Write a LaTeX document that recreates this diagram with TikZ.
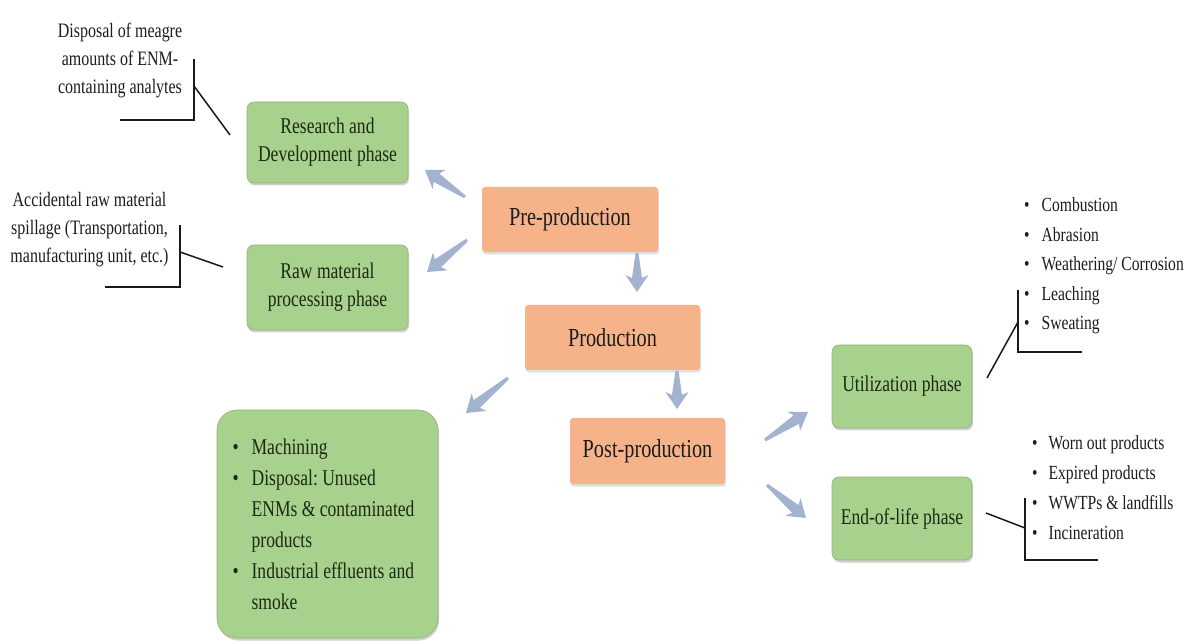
\documentclass[tikz,border=0pt]{standalone}
\usepackage{fontspec}
\setmainfont{Liberation Serif}[FakeStretch=0.78]
\usetikzlibrary{calc,shadows}
\frenchspacing

\definecolor{phasegreen}{HTML}{A9D18E}
\definecolor{stageorange}{HTML}{F6B38A}
\definecolor{flowblue}{HTML}{A3B2CE}
\definecolor{inkdark}{HTML}{1C1C1C}
\definecolor{inkgreen}{HTML}{1B2A14}

\tikzset{
  phase/.style={rounded corners=7pt, fill=phasegreen, draw=phasegreen!85!black,
    line width=0.6pt, text=inkgreen, align=center, inner sep=4pt,
    font=\fontsize{22.5}{28}\selectfont,
    drop shadow={shadow xshift=1pt, shadow yshift=-2.5pt, opacity=0.3, fill=black!60}},
  stage/.style={rounded corners=3pt, fill=stageorange, text=inkdark, align=center,
    font=\fontsize{26}{31}\selectfont,
    drop shadow={shadow xshift=1pt, shadow yshift=-2.5pt, opacity=0.25, fill=black!50}},
  note/.style={text=inkdark, align=center, inner sep=0pt, font=\fontsize{20.5}{28}\selectfont},
  items/.style={text=inkdark, align=flush left, inner sep=0pt, anchor=west},
  callout/.style={draw=black!90, line width=1.5pt}
}

% tapered block arrow from a tail point to a tip point
\newcommand{\flowarrow}[2]{%
  \fill[flowblue] let \p1=(#1), \p2=(#2),
      \n1={atan2(\y2-\y1,\x2-\x1)}, \n2={veclen(\x2-\x1,\y2-\y1)} in
    [shift={(\p1)}, rotate=\n1]
    (0pt,-1.5pt) -- (\n2-14pt,-5pt) -- (\n2-17pt,-11.5pt) -- (\n2,0pt)
    -- (\n2-17pt,11.5pt) -- (\n2-14pt,5pt) -- (0pt,1.5pt) -- cycle;}

\newcommand{\itembullet}[1]{\textbullet\hspace{#1}}

\begin{document}
\begin{tikzpicture}[x=1pt,y=-1pt]
\useasboundingbox (0,0) rectangle (1187,644);

% ---- stages of the life cycle
\node[stage, minimum width=176pt, minimum height=65pt] (pre)  at (570,219.5) {Pre-production};
\node[stage, minimum width=175pt, minimum height=65pt] (prod) at (612.5,337.5) {Production};
\node[stage, minimum width=155pt, minimum height=66pt] (post) at (647.5,451) {Post-production};

% ---- phases
\node[phase, minimum width=161pt, minimum height=81pt] (rnd) at (327.5,142.5) {Research and\\Development phase};
\node[phase, minimum width=161pt, minimum height=85pt] (raw) at (327.5,287.5) {Raw material\\processing phase};
\node[phase, minimum width=140pt, minimum height=83pt] (use) at (902,386.5) {Utilization phase};
\node[phase, minimum width=140pt, minimum height=83pt] (eol) at (902,518.5) {End-of-life phase};

% ---- production releases
\node[phase, rounded corners=20pt, minimum width=221pt, minimum height=228pt,
      text width=190pt, inner xsep=15pt, align=flush left,
      font=\fontsize{22.5}{31}\selectfont] (rel) at (327.5,524)
  {\itembullet{13pt}Machining\\
   \itembullet{13pt}Disposal: Unused\\
   \hphantom{\itembullet{13pt}}ENMs \& contaminated\\
   \hphantom{\itembullet{13pt}}products\\
   \itembullet{13pt}Industrial effluents and\\
   \hphantom{\itembullet{13pt}}smoke};

% ---- flow arrows
\coordinate (a1s) at (465,197);  \coordinate (a1e) at (425,170);
\coordinate (a2s) at (467,240);  \coordinate (a2e) at (427,272);
\coordinate (a3s) at (637,253);  \coordinate (a3e) at (637,292);
\coordinate (a4s) at (508,378);  \coordinate (a4e) at (466,413);
\coordinate (a5s) at (677,371);  \coordinate (a5e) at (677,409);
\coordinate (a6s) at (765,440);  \coordinate (a6e) at (808,412);
\coordinate (a7s) at (767,485);  \coordinate (a7e) at (806,518);
\flowarrow{a1s}{a1e}
\flowarrow{a2s}{a2e}
\flowarrow{a3s}{a3e}
\flowarrow{a4s}{a4e}
\flowarrow{a5s}{a5e}
\flowarrow{a6s}{a6e}
\flowarrow{a7s}{a7e}

% ---- annotations
\node[note] (n1) at (120,60) {Disposal of meagre\\amounts of ENM-\\containing analytes};
\node[note] (n2) at (89.5,230) {Accidental raw material\\spillage (Transportation,\\manufacturing unit, etc.)};
\node[items, font=\fontsize{20}{29.5}\selectfont] (l1) at (1024,266)
  {\itembullet{12pt}Combustion\\ \itembullet{12pt}Abrasion\\ \itembullet{12pt}Weathering/ Corrosion\\
   \itembullet{12pt}Leaching\\ \itembullet{12pt}Sweating};
\node[items, font=\fontsize{20}{30}\selectfont] (l2) at (1032,488)
  {\itembullet{11pt}Worn out products\\ \itembullet{11pt}Expired products\\
   \itembullet{11pt}WWTPs \& landfills\\ \itembullet{11pt}Incineration};

% ---- callout brackets
\coordinate (b1t) at (194,59);   \coordinate (b1c) at (194,120);  \coordinate (b1l) at (120,120);
\coordinate (b1m) at (194,86);   \coordinate (b1x) at (230,135);
\draw[callout] (b1t) -- (b1c) -- (b1l);
\draw[callout] (b1m) -- (b1x);

\coordinate (b2t) at (180,225);  \coordinate (b2c) at (180,287);  \coordinate (b2l) at (105,287);
\coordinate (b2m) at (180,252);  \coordinate (b2x) at (223,267);
\draw[callout] (b2t) -- (b2c) -- (b2l);
\draw[callout] (b2m) -- (b2x);

\coordinate (b3t) at (1018,290); \coordinate (b3c) at (1018,352); \coordinate (b3r) at (1082,352);
\coordinate (b3m) at (1018,322); \coordinate (b3x) at (987,378);
\draw[callout] (b3t) -- (b3c) -- (b3r);
\draw[callout] (b3x) -- (b3m);

\coordinate (b4t) at (1025,498); \coordinate (b4c) at (1025,560); \coordinate (b4r) at (1098,560);
\coordinate (b4m) at (1025,528); \coordinate (b4x) at (986,513);
\draw[callout] (b4t) -- (b4c) -- (b4r);
\draw[callout] (b4x) -- (b4m);
\end{tikzpicture}
\end{document}
